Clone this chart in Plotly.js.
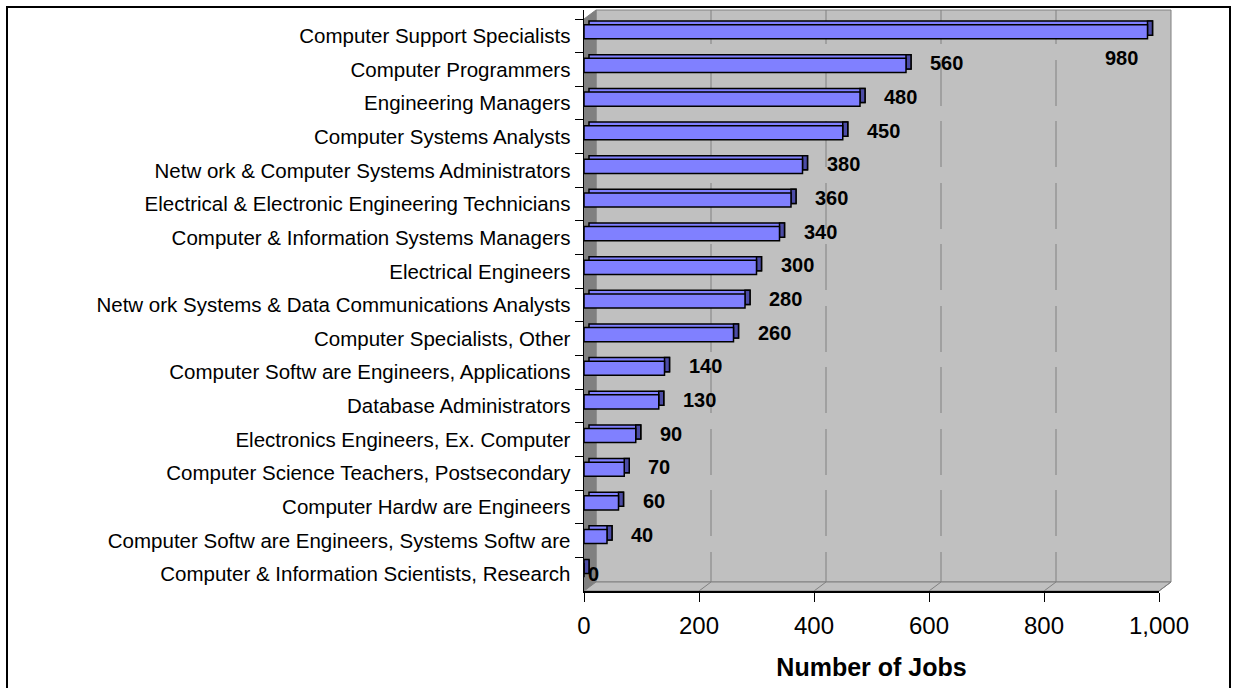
<!DOCTYPE html>
<html>
<head>
<meta charset="utf-8">
<script src="https://cdn.plot.ly/plotly-3.0.1.min.js"></script>
<style>
html,body{margin:0;padding:0;background:#ffffff;}
#chart{width:1235px;height:688px;}
</style>
</head>
<body>
<div id="chart"></div>
<script>
// ---- data ----
const categories = [
  "Computer Support Specialists",
  "Computer Programmers",
  "Engineering Managers",
  "Computer Systems Analysts",
  "Netw ork & Computer Systems Administrators",
  "Electrical & Electronic Engineering Technicians",
  "Computer & Information Systems Managers",
  "Electrical Engineers",
  "Netw ork Systems & Data Communications Analysts",
  "Computer Specialists, Other",
  "Computer Softw are Engineers, Applications",
  "Database Administrators",
  "Electronics Engineers, Ex. Computer",
  "Computer Science Teachers, Postsecondary",
  "Computer Hardw are Engineers",
  "Computer Softw are Engineers, Systems Softw are",
  "Computer & Information Scientists, Research"
];
const jobs = [980, 560, 480, 450, 380, 360, 340, 300, 280, 260, 140, 130, 90, 70, 60, 40, 0];
const xTickValues = [0, 200, 400, 600, 800, 1000];
const xAxisTitle = "Number of Jobs";

// ---- geometry / styling ----
const W = 1235, H = 688;
const L = 584, R = 1159;        // x-axis pixel extent
const B = 591;                  // x-axis line
const CAT_TOP = 19;             // top of category band
const DX = 12, DY = 9;          // 3D wall depth (px)
const T = CAT_TOP - DY;         // top of plot area
const pw = R - L, ph = B - T;
const step = (B - CAT_TOP) / categories.length;   // px per category
const unitsPerPx = (xTickValues[xTickValues.length - 1] - xTickValues[0]) / pw;
const px = p => (p - L) / pw;
const py = p => (B - p) / ph;
const FONT = "Liberation Sans, Arial, Helvetica, sans-serif";

const barW = 0.42;
const frontOffset = -0.33;
const backOffset = frontOffset - 3.6 / step;
const depthUnits = 5 * unitsPerPx;

const frontBars = {
  type: "bar", orientation: "h",
  y: categories, x: jobs,
  width: barW, offset: frontOffset,
  marker: {color: "#8080FF", line: {color: "#000000", width: 1.5}},
  hoverinfo: "x+y"
};
const topFace = {
  type: "bar", orientation: "h",
  y: categories, x: jobs, base: jobs.map(() => depthUnits),
  width: barW, offset: backOffset,
  marker: {color: "#8080FF", line: {color: "#000000", width: 1.5}},
  hoverinfo: "skip"
};
const sideFace = {
  type: "bar", orientation: "h",
  y: categories, x: jobs.map(() => depthUnits), base: jobs,
  width: barW, offset: backOffset,
  marker: {color: "#4C4CA6", line: {color: "#000000", width: 1.5}},
  hoverinfo: "skip"
};

// ---- walls, floor, gridlines ----
const shapes = [];
const gray = "#808080";
// back wall
shapes.push({type: "rect", xref: "paper", yref: "paper", layer: "below",
  x0: px(L + DX), x1: px(R + DX), y0: py(B - DY), y1: py(T),
  fillcolor: "#C0C0C0", line: {color: gray, width: 1}});
// side wall
shapes.push({type: "path", xref: "paper", yref: "paper", layer: "below",
  path: `M${px(L)},${py(CAT_TOP)} L${px(L + DX)},${py(T)} L${px(L + DX)},${py(B - DY)} L${px(L)},${py(B)} Z`,
  fillcolor: gray, line: {color: gray, width: 1}});
// floor
shapes.push({type: "path", xref: "paper", yref: "paper", layer: "below",
  path: `M${px(L)},${py(B)} L${px(L + DX)},${py(B - DY)} L${px(R + DX)},${py(B - DY)} L${px(R)},${py(B)} Z`,
  fillcolor: "#C0C0C0", line: {color: gray, width: 1}});
// dashed gridlines on back wall + floor diagonals
let dash = "34px,16px";
for (let k = 0; k < 12; k++) dash += ",46px," + (k % 2 ? "16px" : "15px");
xTickValues.forEach((v, i) => {
  const xp = L + (v - xTickValues[0]) / unitsPerPx;
  if (i > 0 && i < xTickValues.length - 1) {
    shapes.push({type: "line", xref: "paper", yref: "paper", layer: "below",
      x0: px(xp + DX), x1: px(xp + DX), y0: py(T), y1: py(B - DY),
      line: {color: gray, width: 1, dash: dash}});
  }
  if (i > 0) {
    shapes.push({type: "line", xref: "paper", yref: "paper", layer: "below",
      x0: px(xp), x1: px(xp + DX), y0: py(B), y1: py(B - DY),
      line: {color: gray, width: 1}});
  }
});
// outer chart border
shapes.push({type: "rect", xref: "paper", yref: "paper", layer: "above",
  x0: px(7), x1: px(1230), y0: py(696), y1: py(7),
  fillcolor: "rgba(0,0,0,0)", line: {color: "#000000", width: 2}});

// ---- value labels ----
const xMax = xTickValues[xTickValues.length - 1];
const annotations = jobs.map((v, i) => {
  const nearEnd = v > 0.9 * xMax;
  return {
    x: v, y: categories[i], xref: "x", yref: "y",
    text: String(v), showarrow: false,
    xanchor: nearEnd ? "right" : "left",
    xshift: nearEnd ? -8 : (v === 0 ? 2 : 22),
    yshift: nearEnd ? -22 : (v === 0 ? 0 : 6),
    font: {family: FONT, size: 20, color: "#000000", weight: "bold"}
  };
});

const layout = {
  width: W, height: H,
  margin: {l: L, r: W - R, t: T, b: H - B, pad: 0},
  paper_bgcolor: "#ffffff",
  plot_bgcolor: "rgba(0,0,0,0)",
  barmode: "overlay",
  showlegend: false,
  font: {family: FONT, color: "#000000"},
  xaxis: {
    range: [xTickValues[0], xMax],
    tickmode: "array", tickvals: xTickValues,
    separatethousands: true,
    ticks: "outside", ticklen: 9, tickwidth: 1, tickcolor: "#000000",
    showline: true, linecolor: "#000000", linewidth: 1.5,
    showgrid: false, zeroline: false,
    tickfont: {family: FONT, size: 24, color: "#000000"},
    ticklabelstandoff: 4,
    title: {text: xAxisTitle, font: {family: FONT, size: 25, color: "#000000", weight: "bold"}, standoff: 20},
    automargin: false, fixedrange: true
  },
  yaxis: {
    type: "category",
    categoryorder: "array", categoryarray: categories,
    range: [categories.length - 0.5, -0.5 - (CAT_TOP - T) / step],
    tickson: "boundaries",
    ticks: "outside", ticklen: 8, tickwidth: 1, tickcolor: "#000000",
    showline: true, linecolor: "#000000", linewidth: 1.5,
    showgrid: false, zeroline: false,
    tickfont: {family: FONT, size: 20.5, color: "#000000"},
    ticklabelstandoff: 8,
    automargin: false, fixedrange: true
  },
  shapes: shapes,
  annotations: annotations,
  hovermode: false
};

Plotly.newPlot("chart", [topFace, sideFace, frontBars], layout, {displayModeBar: false, staticPlot: true});
</script>
</body>
</html>
